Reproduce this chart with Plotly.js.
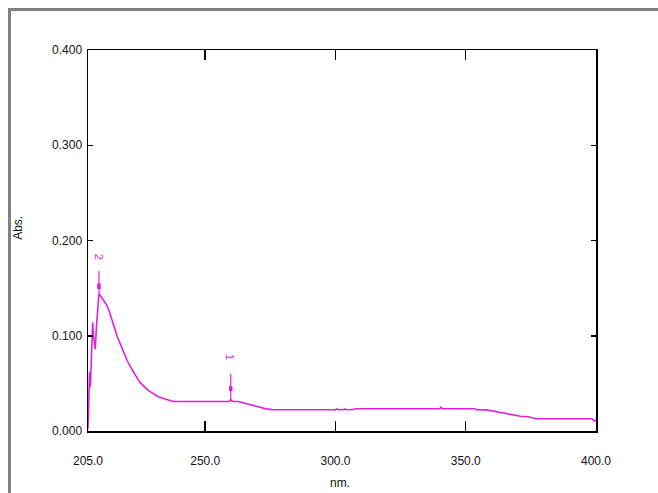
<!DOCTYPE html>
<html>
<head>
<meta charset="utf-8">
<script src="https://cdn.plot.ly/plotly-3.0.1.min.js"></script>
<style>
  html, body { margin: 0; padding: 0; background: #fff; }
  #wrap { position: relative; width: 658px; height: 493px; overflow: hidden; }
  #chart { position: absolute; left: 0; top: 0; width: 658px; height: 493px; }
  #frame { position: absolute; left: 8px; top: 8px; width: 700px; height: 600px;
           border-top: 3px solid #808080; border-left: 3px solid #808080; pointer-events: none; }
</style>
</head>
<body>
<div id="wrap">
  <div id="chart"></div>
  <div id="frame"></div>
</div>
<script>
// Spectrum (wavelength in nm, absorbance)
const wavelength = [
  205.0, 205.3, 205.6, 205.9, 206.2, 206.5, 206.8, 207.1, 207.4, 207.8,
  208.2, 208.6, 209.0, 209.2, 209.8, 210.5, 211.2, 212.0, 213.0, 214.0,
  215.0, 216.0, 217.0, 218.0, 219.0, 220.0, 221.0, 222.0, 223.0, 224.0,
  225.0, 226.0, 227.0, 228.0, 229.0, 230.0, 231.0, 232.0, 233.0, 234.0,
  235.0, 236.0, 237.0, 238.0, 240.0, 250.0, 259.0, 259.8, 260.6, 262.5,
  264.0, 266.0, 267.5, 269.0, 271.0, 273.0, 275.8, 290.0, 300.0, 300.5,
  301.0, 303.0, 303.5, 304.0, 307.0, 307.5, 320.0, 340.0, 340.5, 341.0,
  353.5, 354.0, 358.0, 361.5, 363.0, 366.0, 368.0, 371.0, 374.0, 377.0,
  390.0, 398.5, 399.2, 400.0
];
const absorbance = [
  0.002, 0.035, 0.062, 0.046, 0.072, 0.098, 0.114, 0.100, 0.090, 0.086,
  0.108, 0.128, 0.140, 0.144, 0.142, 0.139, 0.136, 0.133, 0.127, 0.118,
  0.108, 0.101, 0.094, 0.087, 0.080, 0.074, 0.069, 0.064, 0.059, 0.055,
  0.051, 0.048, 0.045, 0.043, 0.041, 0.039, 0.0375, 0.036, 0.035, 0.034,
  0.033, 0.032, 0.0315, 0.031, 0.031, 0.031, 0.031, 0.033, 0.031, 0.031,
  0.030, 0.029, 0.028, 0.027, 0.025, 0.0235, 0.0223, 0.0223, 0.0223, 0.0232,
  0.0223, 0.0223, 0.0232, 0.0223, 0.0225, 0.0234, 0.0234, 0.0234, 0.0250, 0.0234,
  0.0234, 0.0223, 0.0222, 0.0205, 0.020, 0.018, 0.017, 0.0155, 0.015, 0.0128,
  0.0128, 0.0128, 0.0105, 0.0115
];

// Peak picks
const peakLabels = ['2', '1'];
const peakWl = [209.2, 259.8];
const peakAbs = [0.144, 0.031];
const peakTop = [0.168, 0.060];
const peakDotLow = [0.149, 0.042];
const peakDotHigh = [0.155, 0.047];
const peakLabelAbs = [0.183, 0.078];

// Axis ticks
const xTicks = [205, 250, 300, 350, 400];
const xTickText = ['205.0', '250.0', '300.0', '350.0', '400.0'];
const yTicks = [0, 0.1, 0.2, 0.3, 0.4];
const yTickText = ['0.000', '0.100', '0.200', '0.300', '0.400'];

const magenta = '#e020e0';
const sans = 'Liberation Sans, Arial, sans-serif';
const traces = [{
  x: wavelength, y: absorbance, mode: 'lines', type: 'scatter',
  line: { color: magenta, width: 1.6 }, hoverinfo: 'x+y'
}];
peakWl.forEach((w, i) => {
  traces.push({ x: [w, w], y: [peakAbs[i], peakTop[i]], mode: 'lines', type: 'scatter',
    line: { color: magenta, width: 1.2 }, hoverinfo: 'skip' });
  traces.push({ x: [w, w], y: [peakDotLow[i], peakDotHigh[i]], mode: 'lines', type: 'scatter',
    line: { color: magenta, width: 3.5 }, hoverinfo: 'skip' });
});

const tickFont = { family: sans, size: 12, color: '#111' };
const annotations = peakWl.map((w, i) => ({
  x: w, y: peakLabelAbs[i], xref: 'x', yref: 'y', text: peakLabels[i],
  showarrow: false, textangle: 90, xanchor: 'center', yanchor: 'middle',
  font: { family: sans, size: 11, color: magenta }
}));
annotations.push({
  x: -0.138, y: 0.533, xref: 'paper', yref: 'paper', text: 'Abs.', showarrow: false,
  textangle: -90, xanchor: 'center', yanchor: 'middle',
  font: { family: sans, size: 12, color: '#111' }
});
annotations.push({
  x: 0.496, y: -0.136, xref: 'paper', yref: 'paper', text: 'nm.', showarrow: false,
  xanchor: 'center', yanchor: 'middle',
  font: { family: sans, size: 12, color: '#111' }
});

const layout = {
  width: 658, height: 493,
  margin: { l: 88, r: 62, t: 50, b: 62, pad: 0 },
  paper_bgcolor: '#ffffff', plot_bgcolor: '#ffffff',
  showlegend: false,
  xaxis: {
    range: [205, 400], tickvals: xTicks, ticktext: xTickText,
    ticks: 'inside', ticklen: 10, tickwidth: 1.5, tickcolor: '#000',
    showline: true, linecolor: '#000', linewidth: 1.5, mirror: 'ticks',
    showgrid: false, zeroline: false, tickfont: tickFont, ticklabelstandoff: 18
  },
  yaxis: {
    range: [0, 0.4], tickvals: yTicks, ticktext: yTickText,
    ticks: 'inside', ticklen: 5, tickwidth: 1.5, tickcolor: '#000',
    showline: true, linecolor: '#000', linewidth: 1.5, mirror: 'ticks',
    showgrid: false, zeroline: false, tickfont: tickFont, ticklabelstandoff: 2
  },
  annotations: annotations
};

Plotly.newPlot('chart', traces, layout, { displayModeBar: false, staticPlot: true });
</script>
</body>
</html>
